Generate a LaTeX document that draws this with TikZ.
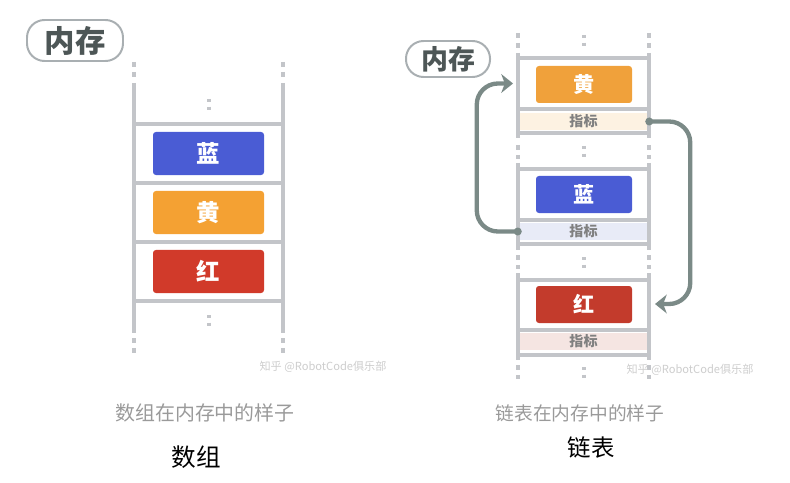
\documentclass[tikz,border=0pt]{standalone}
\usepackage{fontspec}
\setmainfont{Noto Sans CJK SC}
\usepackage{xcolor}
\usepackage{tikz}
\usetikzlibrary{arrows.meta}

\definecolor{railgray}{HTML}{C3C5C9}
\definecolor{pillgray}{HTML}{A9AFB2}
\definecolor{pilltext}{HTML}{4D5656}
\definecolor{lan}{HTML}{4A5CD4}
\definecolor{huang}{HTML}{F4A133}
\definecolor{hong}{HTML}{D13A2A}
\definecolor{huangR}{HTML}{F0A13B}
\definecolor{hongR}{HTML}{C33B2C}
\definecolor{bandhuang}{HTML}{FDF2E2}
\definecolor{bandlan}{HTML}{E8EBF7}
\definecolor{bandhong}{HTML}{F5E5E2}
\definecolor{ptrgray}{HTML}{7B8A87}
\definecolor{capgray}{HTML}{9A9A9A}
\definecolor{markgray}{HTML}{CDCDCD}

\tikzset{
  rail/.style={draw=railgray, line width=3.4pt},
  railgap/.style={draw=railgray, line width=3.4pt, dash pattern=on 4.25pt off 4.25pt},
  dotgap/.style={draw=railgray, line width=2.6pt, dash pattern=on 2.6pt off 4pt},
  pill/.style={draw=pillgray, line width=1.7pt, rounded corners=15pt, text=pilltext, font=\bfseries},
  cell/.style={rounded corners=2.5pt, text=white, font=\bfseries},
  band/.style={minimum width=3.93cm, minimum height=0.51cm, inner sep=0pt, text=gray, font=\bfseries\fontsize{12}{12}\selectfont},
  ptr/.style={draw=ptrgray, line width=3.7pt, rounded corners=18pt, -{Stealth[length=10pt, width=16pt, inset=3pt]}},
  caption/.style={text=capgray},
  watermark/.style={text=markgray, font=\fontsize{9.5}{10}\selectfont}
}

\begin{document}
\begin{tikzpicture}[x=0.03cm, y=-0.03cm]

\useasboundingbox (0,0) rectangle (790,483);

% ---------- Array ----------
\node[pill, minimum width=2.88cm, minimum height=1.23cm, font=\bfseries\fontsize{26}{26}\selectfont] (memA) at (75,40.5) {内存};

% rails
\foreach \x in {134,283} {
  \draw[railgap] (\x,62) -- (\x,78);
  \draw[rail] (\x,83) -- (\x,333);
  \draw[railgap] (\x,338) -- (\x,354);
}
% shelves
\foreach \y in {124,183,242,301}
  \draw[rail] (134,\y) -- (283,\y);
% dots
\draw[dotgap] (209,99) -- (209,111);
\draw[dotgap] (209,315) -- (209,327);

% cells
\node[cell, fill=lan, minimum width=3.33cm, minimum height=1.29cm, font=\bfseries\fontsize{20}{20}\selectfont] (lanA) at (208.5,153.5) {蓝};
\node[cell, fill=huang, minimum width=3.33cm, minimum height=1.29cm, font=\bfseries\fontsize{20}{20}\selectfont] (huangA) at (208.5,212.5) {黄};
\node[cell, fill=hong, minimum width=3.33cm, minimum height=1.29cm, font=\bfseries\fontsize{20}{20}\selectfont] (hongA) at (208.5,271.5) {红};

% texts
\node[watermark] (markA) at (323,367) {知乎 @RobotCode俱乐部};
\node[caption, font=\fontsize{17}{17}\selectfont] (capA) at (205,413) {数组在内存中的样子};
\node[font=\fontsize{21}{21}\selectfont] (titleA) at (196,457) {数组};

% ---------- Linked list ----------
\node[pill, minimum width=2.52cm, minimum height=1.08cm, font=\bfseries\fontsize{23}{23}\selectfont] (memB) at (448,59) {内存};

% pointer bands
\node[band, fill=bandhuang] (p1) at (583.5,121.5) {指标};
\node[band, fill=bandlan] (p2) at (583.5,231.5) {指标};
\node[band, fill=bandhong] (p3) at (583.5,341.5) {指标};

% rails
\foreach \x in {518,649} {
  \draw[railgap] (\x,33) -- (\x,49);
  \draw[rail] (\x,53) -- (\x,138);
  \draw[railgap] (\x,145) -- (\x,159);
  \draw[rail] (\x,163) -- (\x,250);
  \draw[railgap] (\x,255) -- (\x,269);
  \draw[rail] (\x,273) -- (\x,360);
  \draw[railgap] (\x,365) -- (\x,379);
}
% shelves
\foreach \y in {58,109,133,169,220,244,280,330,355}
  \draw[rail] (518,\y) -- (649,\y);
% dots
\foreach \y in {35,146,257,367}
  \draw[dotgap] (584,\y) -- (584,\y+11);

% cells
\node[cell, fill=huangR, minimum width=2.88cm, minimum height=1.11cm, font=\bfseries\fontsize{18}{18}\selectfont] (huangB) at (584,84.5) {黄};
\node[cell, fill=lan, minimum width=2.88cm, minimum height=1.11cm, font=\bfseries\fontsize{18}{18}\selectfont] (lanB) at (584,194.5) {蓝};
\node[cell, fill=hongR, minimum width=2.88cm, minimum height=1.11cm, font=\bfseries\fontsize{18}{18}\selectfont] (hongB) at (584,304.5) {红};

% pointers
\coordinate (toHuang) at (513,83.5);
\coordinate (toHong) at (655,304);
\draw[ptr] (p2.west) -- ++(-41,0) |- (toHuang);
\draw[ptr] (p1.east) -- ++(41,0) |- (toHong);
\fill[ptrgray] (p2.west) circle (0.12cm);
\fill[ptrgray] (p1.east) circle (0.12cm);

% texts
\node[watermark] (markB) at (690,370) {知乎 @RobotCode俱乐部};
\node[caption, font=\fontsize{16}{16}\selectfont] (capB) at (580,413) {链表在内存中的样子};
\node[font=\fontsize{20}{20}\selectfont] (titleB) at (591,448) {链表};

\end{tikzpicture}
\end{document}
